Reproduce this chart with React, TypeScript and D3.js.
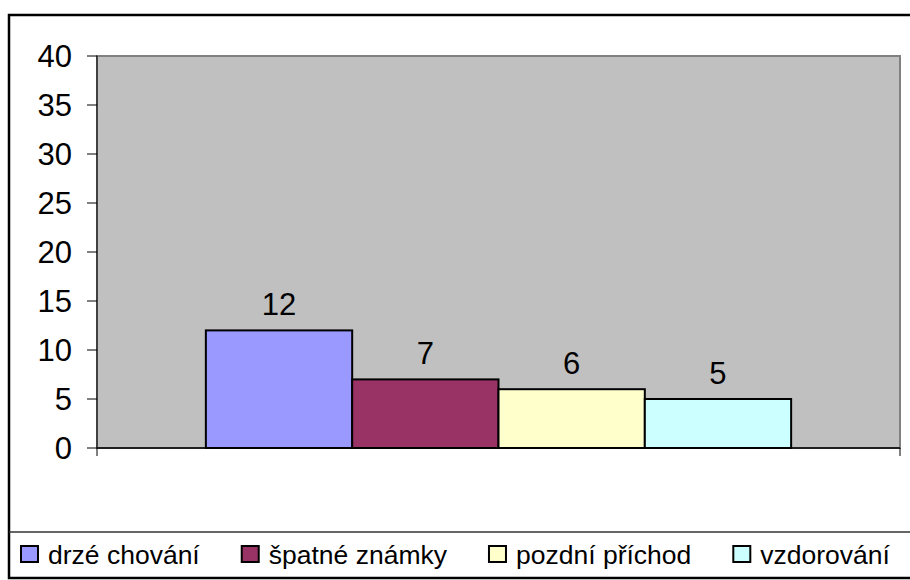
import { useEffect, useRef } from 'react'
import * as d3 from 'd3'

const categories = ['drzé chování', 'špatné známky', 'pozdní příchod', 'vzdorování']
const values = [12, 7, 6, 5]
const colors = ['#9999FF', '#993366', '#FFFFCC', '#CCFFFF']
const yTicks = [0, 5, 10, 15, 20, 25, 30, 35, 40]

const W = 910
const H = 580
const FONT = '"Liberation Sans", Arial, sans-serif'

export default function App() {
  const svgRef = useRef<SVGSVGElement>(null)

  useEffect(() => {
    if (!svgRef.current) return
    const svg = d3.select(svgRef.current)
    svg.selectAll('*').remove()

    const plot = { left: 97, right: 900, top: 56, bottom: 448 }

    // outer frame
    svg.append('rect')
      .attr('x', 9).attr('y', 15)
      .attr('width', W + 20).attr('height', 563)
      .attr('fill', 'white')
      .attr('stroke', 'black')
      .attr('stroke-width', 2.5)

    const y = d3.scaleLinear().domain([0, 40]).range([plot.bottom, plot.top])

    // one category, four series side by side
    const x0 = d3.scaleBand().domain(['g']).range([plot.left, plot.right]).paddingInner(0).paddingOuter(0.186)
    const x1 = d3.scaleBand().domain(categories).range([0, x0.bandwidth()])

    // plot area
    svg.append('rect')
      .attr('x', plot.left).attr('y', plot.top)
      .attr('width', plot.right - plot.left).attr('height', plot.bottom - plot.top)
      .attr('fill', '#C0C0C0')
      .attr('stroke', '#808080')
      .attr('stroke-width', 2)

    // y axis
    const gy = svg.append('g')
    gy.append('line')
      .attr('x1', plot.left).attr('x2', plot.left)
      .attr('y1', plot.top).attr('y2', plot.bottom)
      .attr('stroke', 'black').attr('stroke-width', 1)
    gy.selectAll('line.tick')
      .data(yTicks)
      .enter()
      .append('line')
      .attr('class', 'tick')
      .attr('x1', plot.left - 10).attr('x2', plot.left)
      .attr('y1', d => y(d)).attr('y2', d => y(d))
      .attr('stroke', 'black').attr('stroke-width', 1)
    gy.selectAll('text')
      .data(yTicks)
      .enter()
      .append('text')
      .attr('x', 72)
      .attr('y', d => y(d))
      .attr('dy', '0.36em')
      .attr('text-anchor', 'end')
      .attr('font-family', FONT)
      .attr('font-size', 31)
      .text(d => d)

    // bars
    const bx = (x0('g') as number)
    svg.selectAll('rect.bar')
      .data(values)
      .enter()
      .append('rect')
      .attr('class', 'bar')
      .attr('x', (_, i) => bx + (x1(categories[i]) as number))
      .attr('y', d => y(d))
      .attr('width', x1.bandwidth())
      .attr('height', d => plot.bottom - y(d))
      .attr('fill', (_, i) => colors[i])
      .attr('stroke', 'black')
      .attr('stroke-width', 2)

    // data labels
    svg.selectAll('text.lbl')
      .data(values)
      .enter()
      .append('text')
      .attr('class', 'lbl')
      .attr('x', (_, i) => bx + (x1(categories[i]) as number) + x1.bandwidth() / 2)
      .attr('y', d => y(d) - 15)
      .attr('text-anchor', 'middle')
      .attr('font-family', FONT)
      .attr('font-size', 31)
      .text(d => d)

    // x axis
    svg.append('line')
      .attr('x1', plot.left).attr('x2', plot.right)
      .attr('y1', plot.bottom).attr('y2', plot.bottom)
      .attr('stroke', 'black').attr('stroke-width', 1.5)
    svg.selectAll('line.xt')
      .data([plot.left, plot.right])
      .enter()
      .append('line')
      .attr('class', 'xt')
      .attr('x1', d => d).attr('x2', d => d)
      .attr('y1', plot.bottom).attr('y2', plot.bottom + 8)
      .attr('stroke', 'black').attr('stroke-width', 1)

    // legend
    svg.append('line')
      .attr('x1', 9).attr('x2', W)
      .attr('y1', 532).attr('y2', 532)
      .attr('stroke', '#333').attr('stroke-width', 1.5)

    const legend = svg.append('g')
    let cx = 20
    categories.forEach((c, i) => {
      legend.append('rect')
        .attr('x', cx + 1).attr('y', 546)
        .attr('width', 17).attr('height', 16)
        .attr('fill', colors[i])
        .attr('stroke', 'black')
        .attr('stroke-width', 2)
      const t = legend.append('text')
        .attr('x', cx + 28)
        .attr('y', 554)
        .attr('dy', '0.36em')
        .attr('font-family', FONT)
        .attr('font-size', 26.5)
        .text(c)
      const tw = (t.node() as SVGTextElement).getComputedTextLength()
      cx = cx + 28 + tw + 41
    })
  }, [])

  return (
    <svg
      ref={svgRef}
      width={W}
      height={H}
      style={{ position: 'fixed', left: 0, top: 0, display: 'block', background: 'white' }}
    />
  )
}
